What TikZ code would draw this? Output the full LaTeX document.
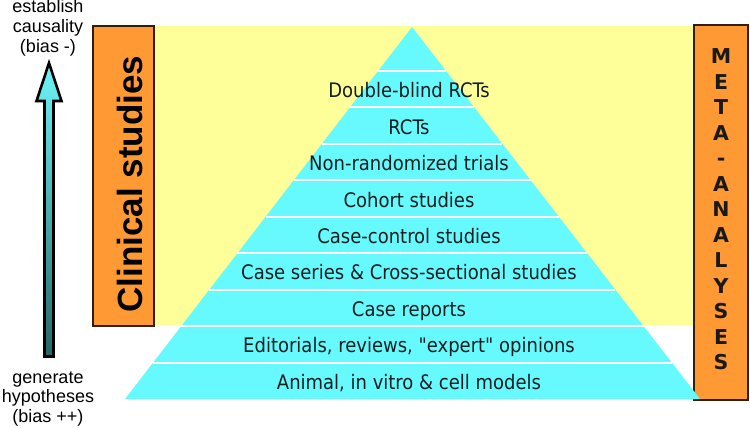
\documentclass[tikz,border=0pt]{standalone}
\usepackage{fontspec}
\setmainfont{Liberation Sans}
\newfontfamily\pyrfont[Ligatures=TeXOff]{DejaVu Sans Condensed}
\newfontfamily\metafont{DejaVu Sans}
\definecolor{pyrcyan}{RGB}{102,250,255}
\definecolor{bgyellow}{RGB}{255,255,153}
\definecolor{boxorange}{RGB}{255,153,51}
\definecolor{boxline}{RGB}{50,30,15}
\definecolor{arrowtop}{RGB}{110,245,250}
\definecolor{arrowbot}{RGB}{40,100,100}
\definecolor{pyrtext}{RGB}{20,30,30}
\tikzset{
  orangebox/.style={draw=boxline, fill=boxorange, line width=1.8pt, inner sep=0pt},
  bandline/.style={white, line width=2pt},
  leveltext/.style={anchor=base, inner sep=0pt, text=pyrtext, font=\pyrfont\fontsize{20}{22}\selectfont},
  sidelabel/.style={anchor=base, inner sep=0pt, font=\fontsize{18}{20}\selectfont},
  metaletter/.style={anchor=base, inner sep=0pt, text=black!90, font=\metafont\bfseries\fontsize{20.5}{22}\selectfont},
}
\begin{document}
\begin{tikzpicture}[x=1pt,y=-1pt]
\useasboundingbox (0,0) rectangle (750,428);
% yellow background
\fill[bgyellow] (154,26) rectangle (694,325);
% clinical studies box
\node[orangebox, minimum width=61pt, minimum height=300pt] (clinbox) at (123.5,176) {};
\node[anchor=base, rotate=90, inner sep=0pt, font=\bfseries\fontsize{35}{36}\selectfont] (clintext) at (142,184) {Clinical studies};
% meta-analyses box
\node[orangebox, minimum width=54pt, minimum height=375pt] (metabox) at (721,212.5) {};
\foreach \ch [count=\i from 0] in {M,E,T,A,-,A,N,A,L,Y,S,E,S}
  \node[metaletter] (meta\i) at (721,{63.5+25.5*\i}) {\ch};
% pyramid
\coordinate (apex) at (412,27);
\coordinate (baseL) at (125,399);
\coordinate (baseR) at (700,399);
\fill[pyrcyan] (apex) -- (baseR) -- (baseL) -- cycle;
\foreach \yy in {71,107.44,143.89,180.33,216.78,253.22,289.67,326.11,362.56}
  \draw[bandline] ({412-(\yy-27)/372*287},\yy) -- ({412+(\yy-27)/372*288},\yy);
% level texts
\node[leveltext] (lv1) at (409,97.7) {Double-blind RCTs};
\node[leveltext] (lv2) at (409,134.2) {RCTs};
\node[leveltext] (lv3) at (409,170.6) {Non-randomized trials};
\node[leveltext] (lv4) at (409,207.0) {Cohort studies};
\node[leveltext] (lv5) at (409,243.5) {Case-control studies};
\node[leveltext] (lv6) at (409,279.9) {Case series \& Cross-sectional studies};
\node[leveltext] (lv7) at (409,316.4) {Case reports};
\node[leveltext] (lv8) at (409,352.8) {Editorials, reviews, "expert" opinions};
\node[leveltext] (lv9) at (409,389.3) {Animal, in vitro \& cell models};
% arrow
\coordinate (atip) at (49,63);
\path[top color=arrowtop, bottom color=arrowbot, draw=black, line width=2.6pt, line join=miter]
  (atip) -- (61.5,101) -- (53.5,101) -- (53.5,356.5) -- (44.5,356.5) -- (44.5,101) -- (36.5,101) -- cycle;
% side labels
\node[sidelabel] (t1) at (48,13) {establish};
\node[sidelabel] (t2) at (48,33) {causality};
\node[sidelabel] (t3) at (48,53) {(bias -)};
\node[sidelabel] (b1) at (48,383) {generate};
\node[sidelabel] (b2) at (48,402.5) {hypotheses};
\node[sidelabel] (b3) at (48,422) {(bias ++)};
\end{tikzpicture}
\end{document}
